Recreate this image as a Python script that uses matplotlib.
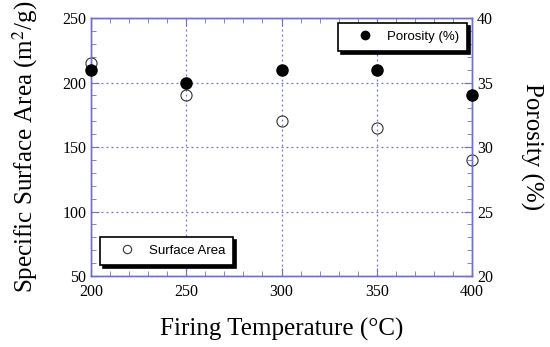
import numpy as np
import matplotlib
matplotlib.use("Agg")
import matplotlib.pyplot as plt
from matplotlib.ticker import MultipleLocator

# data
temperature = [200, 250, 300, 350, 400]
surface_area = [215, 190, 170, 165, 140]
porosity = [36, 35, 36, 36, 34]

axis_color = "#7070d0"
plt.rcParams["mathtext.fontset"] = "stix"

fig = plt.figure(figsize=(5.5, 3.47), dpi=100, facecolor="white")
ax = fig.add_axes([0.1655, 0.2046, 0.6927, 0.7435])
ax2 = ax.twinx()

ax.set_xlim(200, 400)
ax.set_ylim(50, 250)
ax2.set_ylim(20, 40)

ax.xaxis.set_major_locator(MultipleLocator(50))
ax.xaxis.set_minor_locator(MultipleLocator(10))
ax.yaxis.set_major_locator(MultipleLocator(50))
ax.yaxis.set_minor_locator(MultipleLocator(10))
ax2.yaxis.set_major_locator(MultipleLocator(5))
ax2.yaxis.set_minor_locator(MultipleLocator(1))

serif = "Liberation Serif"
for a in (ax, ax2):
    for s in a.spines.values():
        s.set_color(axis_color)
        s.set_linewidth(1.0)
    a.tick_params(which="both", direction="in", color=axis_color,
                  labelsize=11.5, top=True)
    a.tick_params(which="major", length=6)
    a.tick_params(which="minor", length=3.5)
    for lab in a.get_xticklabels() + a.get_yticklabels():
        lab.set_fontfamily(serif)
ax.tick_params(which="both", right=False)
ax2.tick_params(which="both", left=False, top=False, bottom=False)
ax.tick_params(axis="x", pad=6)

ax.grid(True, which="major", color=axis_color, linestyle=(0, (1.5, 2.5)),
        linewidth=0.9)
ax.set_axisbelow(True)

h1, = ax.plot(temperature, surface_area, "o", mfc="none", mec="#333333",
              mew=0.8, ms=8, clip_on=False, zorder=5, label="Surface Area")
h2, = ax2.plot(temperature, porosity, "o", color="black", ms=8,
               clip_on=False, zorder=5, label="Porosity (%)")

ax.set_xlabel("Firing Temperature (°C)", fontsize=18, fontfamily=serif,
              labelpad=13)
ax.set_ylabel("Specific Surface Area (m$^2$/g)", fontsize=18,
              fontfamily=serif, labelpad=16)
ax2.set_ylabel("Porosity (%)", fontsize=18, fontfamily=serif,
               rotation=270, labelpad=36)

leg_kw = dict(frameon=True, shadow={"color": "black", "alpha": 1},
              fancybox=False, prop={"family": "Liberation Sans", "size": 9.5},
              borderpad=0.6, handletextpad=0.2, edgecolor="black",
              handlelength=2.9, borderaxespad=0, markerscale=0.75)
l1 = ax.legend(handles=[h1], loc="lower left",
               bbox_to_anchor=(0.024, 0.043), **leg_kw)
l1.get_frame().set_linewidth(1.2)
l1.set_zorder(10)
l2 = ax2.legend(handles=[h2], loc="upper right",
                bbox_to_anchor=(0.987, 0.981), **leg_kw)
l2.get_frame().set_linewidth(1.2)

fig.savefig("out.png", dpi=100)
